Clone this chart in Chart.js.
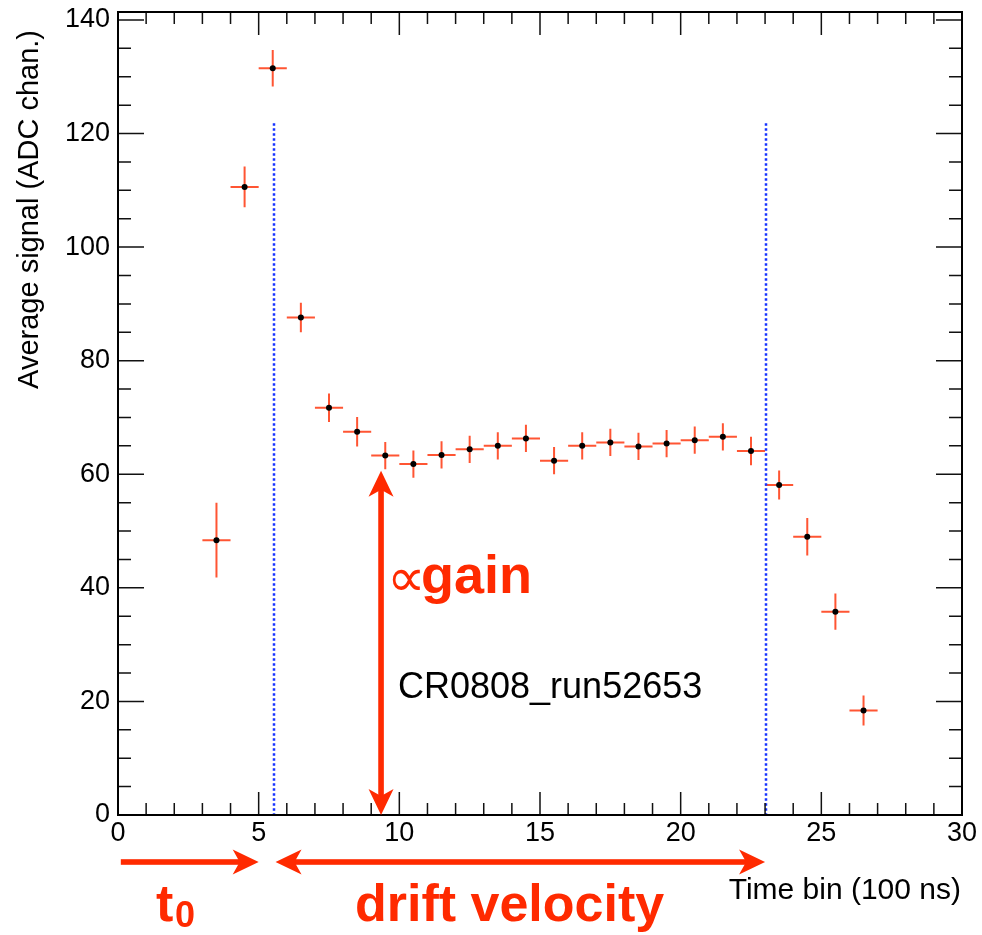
<!DOCTYPE html>
<html>
<head>
<meta charset="utf-8">
<script src="https://cdn.jsdelivr.net/npm/chart.js@4"></script>
<style>
  html, body { margin: 0; padding: 0; background: #fff; }
  #wrap { width: 982px; height: 935px; }
</style>
</head>
<body>
<div id="wrap"><canvas id="grafico" width="982" height="935"></canvas></div>
<script>
// bin centres (time bin) and mean signal with its error
const binCenters = [3.5, 4.5, 5.5, 6.5, 7.5, 8.5, 9.5, 10.5, 11.5, 12.5, 13.5, 14.5,
  15.5, 16.5, 17.5, 18.5, 19.5, 20.5, 21.5, 22.5, 23.5, 24.5, 25.5, 26.5];
const avgSignal = [48.4, 110.6, 131.5, 87.6, 71.7, 67.5, 63.3, 61.8, 63.4, 64.4, 65.0, 66.3,
  62.4, 65.0, 65.6, 64.9, 65.4, 66.0, 66.6, 64.1, 58.1, 49.0, 35.8, 18.4];
const signalErr = [6.6, 3.6, 3.2, 2.6, 2.5, 2.6, 2.4, 2.4, 2.4, 2.4, 2.4, 2.4,
  2.4, 2.4, 2.4, 2.4, 2.4, 2.4, 2.4, 2.5, 2.55, 3.3, 3.2, 2.65];

const xTicks = [0, 5, 10, 15, 20, 25, 30];
const yTicks = [0, 20, 40, 60, 80, 100, 120, 140];

// window limits (blue dotted) and the gain arrow
const cutLines = [5.53, 23.03];
const cutTop = 121.8;
const gainArrowX = 9.35;
const gainArrowTop = 60.6;

const FONT = "'Liberation Sans', Arial, Helvetica, sans-serif";
const RED = '#ff2a00';
const ERRCOL = '#ff5533';

// arrow along the x axis of a rotated frame, heads at start and/or end
function seta(ctx, x1, y1, x2, y2, cor, duplo) {
  const ang = Math.atan2(y2 - y1, x2 - x1);
  const len = Math.hypot(x2 - x1, y2 - y1);
  const cabeca = (p, s) => {
    ctx.beginPath();
    ctx.moveTo(p, 0);
    ctx.lineTo(p - s * 26, -12.5);
    ctx.lineTo(p - s * 19, 0);
    ctx.lineTo(p - s * 26, 12.5);
    ctx.closePath();
    ctx.fill();
  };
  ctx.save();
  ctx.translate(x1, y1);
  ctx.rotate(ang);
  ctx.fillStyle = cor;
  const ini = duplo ? 18 : 0;
  ctx.fillRect(ini, -2.8, len - 18 - ini, 5.6);
  cabeca(len, 1);
  if (duplo) cabeca(0, -1);
  ctx.restore();
}

const moldura = {
  id: 'moldura',
  beforeDatasetsDraw(chart) {
    const { ctx, scales: { x, y } } = chart;
    ctx.save();
    // error bars
    ctx.strokeStyle = ERRCOL;
    ctx.lineWidth = 2;
    binCenters.forEach((bx, i) => {
      const px = x.getPixelForValue(bx);
      const py = y.getPixelForValue(avgSignal[i]);
      ctx.beginPath();
      ctx.moveTo(x.getPixelForValue(bx - 0.5), py);
      ctx.lineTo(x.getPixelForValue(bx + 0.5), py);
      ctx.moveTo(px, y.getPixelForValue(avgSignal[i] - signalErr[i]));
      ctx.lineTo(px, y.getPixelForValue(avgSignal[i] + signalErr[i]));
      ctx.stroke();
    });
    // blue dotted lines
    ctx.strokeStyle = '#1633ff';
    ctx.lineWidth = 2.5;
    ctx.setLineDash([2.5, 2.5]);
    cutLines.forEach(c => {
      const px = Math.round(x.getPixelForValue(c));
      ctx.beginPath();
      ctx.moveTo(px, y.getPixelForValue(cutTop));
      ctx.lineTo(px, y.getPixelForValue(0));
      ctx.stroke();
    });
    ctx.setLineDash([]);
    ctx.restore();
  },
  afterDraw(chart) {
    const { ctx, chartArea: a, scales: { x, y } } = chart;
    ctx.save();
    // ticks (inside, all four sides)
    ctx.strokeStyle = '#111';
    ctx.lineWidth = 1.5;
    ctx.beginPath();
    for (let v = 0; v <= 30; v++) {
      const px = x.getPixelForValue(v);
      const L = v % 5 === 0 ? 23 : 12;
      ctx.moveTo(px, a.bottom); ctx.lineTo(px, a.bottom - L);
      ctx.moveTo(px, a.top); ctx.lineTo(px, a.top + L);
    }
    for (let v = 0; v <= 140; v += 5) {
      const py = y.getPixelForValue(v);
      const L = v % 20 === 0 ? 26 : 13;
      ctx.moveTo(a.left, py); ctx.lineTo(a.left + L, py);
      ctx.moveTo(a.right, py); ctx.lineTo(a.right - L, py);
    }
    ctx.stroke();
    // frame
    ctx.lineWidth = 2;
    ctx.strokeStyle = '#000';
    ctx.strokeRect(a.left, a.top, a.right - a.left, a.bottom - a.top);

    // y title
    ctx.fillStyle = '#000';
    ctx.save();
    ctx.translate(38, 30);
    ctx.rotate(-Math.PI / 2);
    ctx.font = '29px ' + FONT;
    ctx.textAlign = 'right';
    ctx.textBaseline = 'alphabetic';
    ctx.fillText('Average signal (ADC chan.)', 0, 0);
    ctx.restore();

    // x title
    ctx.font = '30px ' + FONT;
    ctx.textAlign = 'right';
    ctx.fillText('Time bin (100 ns)', 961, 899);

    // run label
    ctx.textAlign = 'left';
    ctx.font = '36px ' + FONT;
    ctx.fillText('CR0808_run52653', 398, 698);

    // gain arrow
    const gx = x.getPixelForValue(gainArrowX);
    seta(ctx, gx, y.getPixelForValue(gainArrowTop), gx, y.getPixelForValue(0), RED, true);

    ctx.fillStyle = RED;
    ctx.font = '54px ' + "'DejaVu Sans', " + FONT;
    ctx.fillText('\u221d', 387, 596);
    ctx.font = 'bold 54px ' + FONT;
    ctx.fillText('gain', 421, 593);

    // bottom arrows
    const yb = 862;
    seta(ctx, x.getPixelForValue(0.1), yb, x.getPixelForValue(5.0), yb, RED, false);
    seta(ctx, x.getPixelForValue(5.6), yb, x.getPixelForValue(23.0), yb, RED, true);

    ctx.font = 'bold 52px ' + FONT;
    ctx.fillText('t', 156, 921);
    ctx.font = 'bold 36px ' + FONT;
    ctx.fillText('0', 175, 927);
    ctx.font = 'bold 52px ' + FONT;
    ctx.fillText('drift velocity', 355, 921);
    ctx.restore();
  }
};

const pontos = binCenters.map((bx, i) => ({ x: bx, y: avgSignal[i] }));

new Chart(document.getElementById('grafico'), {
  type: 'scatter',
  data: {
    datasets: [{
      data: pontos,
      pointRadius: 3,
      pointHoverRadius: 3,
      pointBackgroundColor: '#000',
      pointBorderWidth: 0
    }]
  },
  options: {
    responsive: false,
    animation: false,
    layout: { padding: { top: 12, right: 20, left: 0, bottom: 0 } },
    plugins: { legend: { display: false }, tooltip: { enabled: false } },
    scales: {
      x: {
        type: 'linear',
        min: 0,
        max: 30,
        afterBuildTicks: s => { s.ticks = xTicks.map(v => ({ value: v })); },
        afterFit: s => { s.height = 120; s.paddingLeft = 0; s.paddingRight = 0; },
        grid: { display: false, drawTicks: false },
        border: { display: false },
        ticks: {
          padding: 2,
          maxRotation: 0,
          color: '#000',
          font: { family: FONT, size: 27 }
        }
      },
      y: {
        type: 'linear',
        min: 0,
        max: 141.4,
        afterBuildTicks: s => { s.ticks = yTicks.map(v => ({ value: v })); },
        afterFit: s => { s.width = 118; s.paddingTop = 0; s.paddingBottom = 0; },
        grid: { display: false, drawTicks: false },
        border: { display: false },
        ticks: {
          padding: 8,
          color: '#000',
          font: { family: FONT, size: 27 }
        }
      }
    }
  },
  plugins: [moldura]
});
</script>
</body>
</html>
